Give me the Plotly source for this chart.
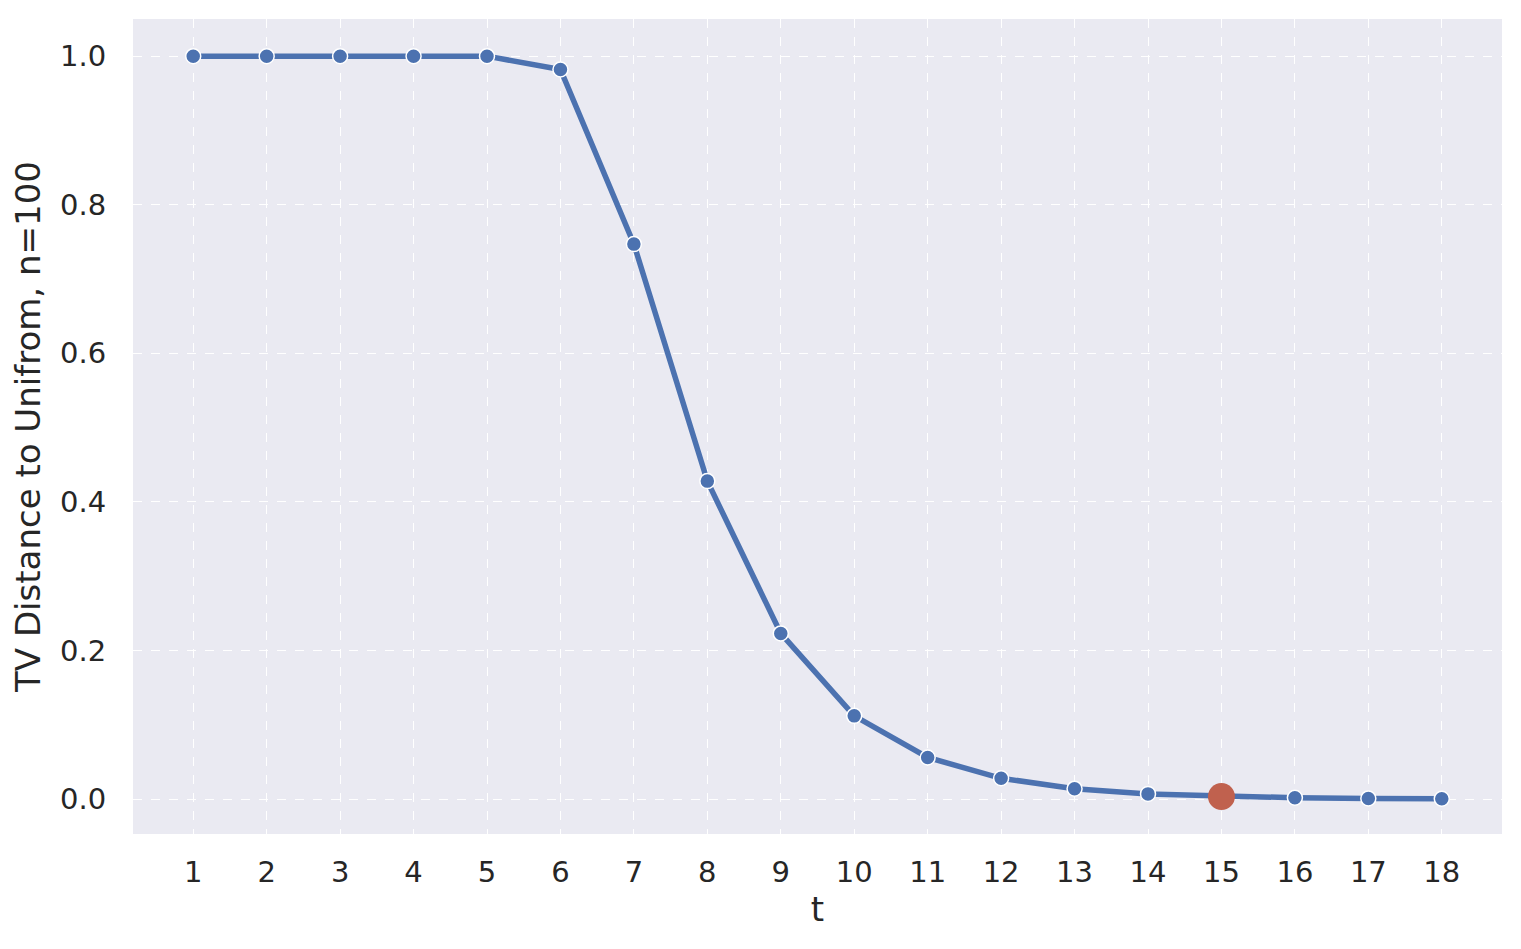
import plotly.graph_objects as go

# Mixing time curve: TV distance to uniform after t shuffles, n=100
t_values = list(range(1, 19))
tv_distance = [1.0, 1.0, 1.0, 1.0, 1.0, 0.982, 0.747, 0.428, 0.223, 0.112,
               0.056, 0.028, 0.014, 0.007, 0.0035, 0.0018, 0.0009, 0.0005]

# highlighted point
cutoff_t = [15]
cutoff_tv = [0.0035]

BLUE = "#4C72B0"
RED = "#C0614E"
FONT = "DejaVu Sans"

fig = go.Figure()

fig.add_trace(go.Scatter(
    x=t_values, y=tv_distance,
    mode="lines+markers",
    line=dict(color=BLUE, width=5.5),
    marker=dict(color=BLUE, size=15, line=dict(color="white", width=1.5)),
    showlegend=False
))

fig.add_trace(go.Scatter(
    x=cutoff_t, y=cutoff_tv,
    mode="markers",
    marker=dict(color=RED, size=27, line=dict(width=0)),
    showlegend=False
))

# page body has an 8px margin, so the figure is shrunk/offset to line up
fig.update_layout(
    width=1505, height=933,
    margin=dict(l=125, r=11, t=11, b=107),
    paper_bgcolor="white",
    plot_bgcolor="#EAEAF2",
    font=dict(family=FONT, size=29, color="#262626"),
    xaxis=dict(
        title=dict(text="t", font=dict(size=34), standoff=9),
        range=[0.18, 18.82],
        tickmode="array", tickvals=t_values,
        ticktext=[str(v) for v in t_values],
        showgrid=True, gridcolor="white", gridwidth=1, griddash="dash",
        zeroline=False, showline=False,
        ticks="outside", ticklen=12, tickcolor="rgba(0,0,0,0)",
    ),
    yaxis=dict(
        title=dict(text="TV Distance to Unifrom, n=100", font=dict(size=34), standoff=10),
        range=[-0.047, 1.05],
        tickmode="array", tickvals=[0.0, 0.2, 0.4, 0.6, 0.8, 1.0],
        ticktext=["0.0", "0.2", "0.4", "0.6", "0.8", "1.0"],
        showgrid=True, gridcolor="white", gridwidth=1, griddash="dash",
        zeroline=False, showline=False,
        ticks="outside", ticklen=20, tickcolor="rgba(0,0,0,0)",
    ),
)

fig.write_html("out.html")
